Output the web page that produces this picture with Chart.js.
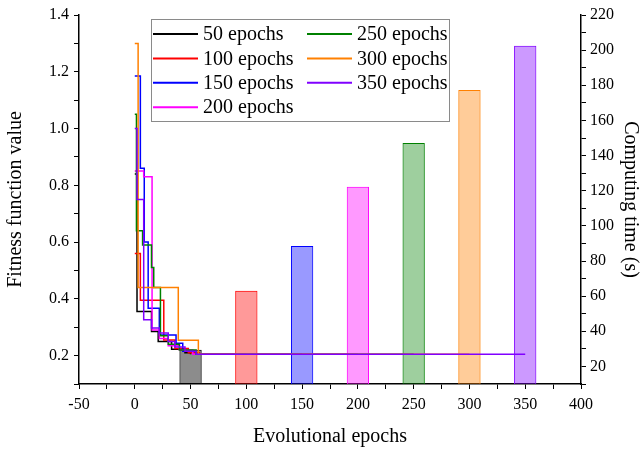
<!DOCTYPE html>
<html>
<head>
<meta charset="utf-8">
<script src="https://cdn.jsdelivr.net/npm/chart.js@4.4.1/dist/chart.umd.min.js"></script>
<style>
  html, body { margin: 0; padding: 0; background: #fff; }
  #wrap { width: 640px; height: 449px; position: relative; }
</style>
</head>
<body>
<div id="wrap"><canvas id="myChart"></canvas></div>
<script>
// Best fitness per run: epoch where the value changes, and the new value
const epochs50 = [0, 2, 15, 21, 33, 45, 50];
const fitness50 = [0.84, 0.355, 0.285, 0.25, 0.222, 0.21, 0.205];

const epochs100 = [0, 5, 26, 36, 48, 58, 100];
const fitness100 = [0.56, 0.395, 0.255, 0.225, 0.21, 0.205, 0.205];

const epochs150 = [0, 5, 8.5, 12, 22, 37, 43, 55, 150];
const fitness150 = [1.185, 0.86, 0.6, 0.367, 0.273, 0.244, 0.215, 0.205, 0.205];

const epochs200 = [0, 8, 15.5, 22, 30, 40, 52, 200];
const fitness200 = [0.85, 0.83, 0.29, 0.26, 0.235, 0.22, 0.205, 0.205];

const epochs250 = [0, 1.5, 7, 15, 17, 23, 30, 40, 55, 250];
const fitness250 = [1.05, 0.64, 0.59, 0.51, 0.44, 0.27, 0.24, 0.22, 0.205, 0.205];

const epochs300 = [0, 3, 39, 57, 300];
const fitness300 = [1.3, 0.44, 0.254, 0.205, 0.205];

const epochs350 = [0, 2, 8, 15, 22, 30, 36, 45, 55, 350];
const fitness350 = [1.0, 0.75, 0.326, 0.297, 0.28, 0.25, 0.23, 0.215, 0.205, 0.205];

// Computing time of each run (s)
const barEpochs = [50, 100, 150, 200, 250, 300, 350];
const computingTime = [29.5, 63, 88.5, 122.2, 147.2, 177.3, 202.5];

const runLabels = ['50 epochs', '100 epochs', '150 epochs', '200 epochs', '250 epochs', '300 epochs', '350 epochs'];
const runEpochs = [epochs50, epochs100, epochs150, epochs200, epochs250, epochs300, epochs350];
const runFitness = [fitness50, fitness100, fitness150, fitness200, fitness250, fitness300, fitness350];

const lineColors = ['#000000', '#ff0000', '#0000ff', '#ff00ff', '#008000', '#ff8000', '#8000ff'];
const barFill = [
  'rgba(0, 0, 0, 0.45)',
  'rgba(255, 0, 0, 0.4)',
  'rgba(0, 0, 255, 0.4)',
  'rgba(255, 0, 255, 0.4)',
  'rgba(0, 128, 0, 0.38)',
  'rgba(255, 128, 0, 0.4)',
  'rgba(128, 0, 255, 0.4)',
];

const serif = "'Liberation Serif', 'Times New Roman', serif";

const lineSets = runLabels.map((label, i) => ({
  type: 'line',
  label: label,
  data: runEpochs[i].map((x, j) => ({ x: x, y: runFitness[i][j] })),
  yAxisID: 'y',
  borderColor: lineColors[i],
  borderWidth: 1.5,
  pointRadius: 0,
  stepped: true,
  fill: false,
  order: 7 - i,
}));

const barSet = {
  type: 'bar',
  label: 'Computing time',
  data: barEpochs.map((x, i) => ({ x: x, y: computingTime[i] })),
  yAxisID: 'y2',
  backgroundColor: barFill,
  borderColor: lineColors,
  borderWidth: 1,
  barPercentage: 0.8,
  categoryPercentage: 1,
  order: 10,
};

// Two-column boxed legend inside the plot
const boxLegend = {
  id: 'boxLegend',
  afterDraw(chart) {
    const c = chart.ctx;
    const a = chart.chartArea;
    const left = a.left + 72;
    const top = a.top + 4;
    c.save();
    c.fillStyle = '#fff';
    c.fillRect(left, top, 298, 102);
    c.strokeStyle = '#8a8a8a';
    c.lineWidth = 1;
    c.strokeRect(left + 0.5, top + 0.5, 298, 102);
    c.font = '20px ' + serif;
    c.textBaseline = 'middle';
    c.fillStyle = '#000';
    runLabels.forEach((label, i) => {
      const col = i < 4 ? 0 : 1;
      const row = i < 4 ? i : i - 4;
      const x0 = left + 2 + col * 154;
      const y0 = top + 15 + row * 24.4;
      c.strokeStyle = lineColors[i];
      c.lineWidth = 2;
      c.beginPath();
      c.moveTo(x0, y0);
      c.lineTo(x0 + 45, y0);
      c.stroke();
      c.fillText(label, x0 + 50, y0 + 1);
    });
    c.restore();
  }
};

const tickFont = { family: serif, size: 16 };
const titleFont = { family: serif, size: 20, lineHeight: 1 };

const ctx = document.getElementById('myChart');

new Chart(ctx, {
  type: 'bar',
  data: { datasets: [...lineSets, barSet] },
  options: {
    responsive: true,
    maintainAspectRatio: false,
    animation: false,
    layout: { padding: { top: 15, left: 0, right: 0, bottom: 0 } },
    plugins: {
      legend: { display: false },
      tooltip: { enabled: false },
    },
    scales: {
      x: {
        type: 'linear',
        min: -50,
        max: 400,
        offset: false,
        ticks: {
          stepSize: 25,
          autoSkip: false,
          maxRotation: 0,
          color: '#000',
          font: tickFont,
          padding: 6,
          callback: v => (v % 50 === 0 ? String(v) : ''),
        },
        grid: { drawOnChartArea: false, offset: false, tickLength: 5, color: '#000', tickColor: '#000' },
        border: { color: '#000', width: 1.5 },
        title: { display: true, text: 'Evolutional epochs', color: '#000', font: titleFont, padding: { top: 0, bottom: 2 } },
        afterFit: s => { s.height = 65; },
      },
      y: {
        position: 'left',
        min: 0.1,
        max: 1.4,
        ticks: {
          stepSize: 0.1,
          autoSkip: false,
          color: '#000',
          font: tickFont,
          padding: 5,
          callback: v => (Math.round(v * 10) % 2 === 0 ? v.toFixed(1) : ''),
        },
        grid: { drawOnChartArea: false, tickLength: 5, color: '#000', tickColor: '#000' },
        border: { color: '#000', width: 1.5 },
        title: { display: true, text: 'Fitness function value', color: '#000', font: titleFont, padding: { top: 6, bottom: 0 } },
        afterFit: s => { s.width = 79; },
      },
      y2: {
        position: 'right',
        min: 10,
        max: 220,
        ticks: {
          stepSize: 10,
          autoSkip: false,
          color: '#000',
          font: tickFont,
          padding: 4,
          callback: v => (v % 20 === 0 ? String(v) : ''),
        },
        grid: { drawOnChartArea: false, tickLength: 5, color: '#000', tickColor: '#000' },
        border: { color: '#000', width: 1.5 },
        title: { display: true, text: 'Computing time (s)', color: '#000', font: titleFont, padding: { top: 0, bottom: 0 } },
        afterFit: s => { s.width = 59; },
      },
    },
  },
  plugins: [boxLegend],
});
</script>
</body>
</html>
